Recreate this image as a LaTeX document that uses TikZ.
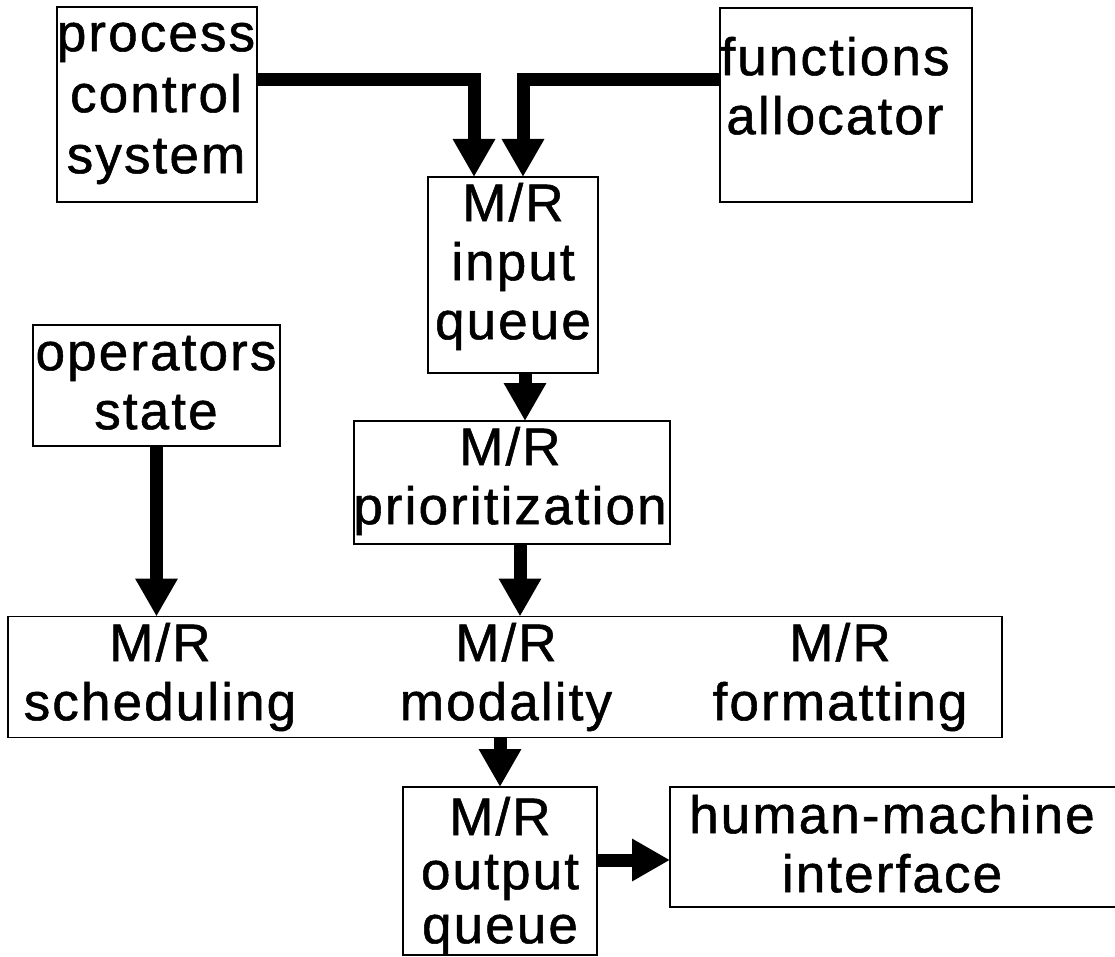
\documentclass[tikz,border=0pt]{standalone}
\usepackage{fontspec}
\setmainfont{Liberation Sans}[LetterSpace=4, FakeBold=1]
\usetikzlibrary{arrows.meta}
\newcommand\mrfont{\fontsize{53}{59}\selectfont}
% strut that fixes the height of a label's first line
\newcommand\firstline{\rule{0pt}{41pt}}
\begin{document}
\begin{tikzpicture}[x=1pt,y=-1pt,
  box/.style={draw, line width=1.6pt, inner sep=0pt, outer sep=0pt},
  txt/.style={font=\mrfont, align=center, inner sep=0pt, anchor=north},
  flow/.style={line width=13pt, line join=miter,
               -{Triangle[length=38pt,width=40pt]}}]
\useasboundingbox (0,0) rectangle (1115,957);

% boxes
\node[box, minimum width=200pt, minimum height=195pt] (pcs) at (157,104.5) {};
\node[box, minimum width=252pt, minimum height=194pt] (fa)  at (846,105) {};
\node[box, minimum width=170pt, minimum height=196pt] (iq)  at (513,275) {};
\node[box, minimum width=247pt, minimum height=121pt] (os)  at (156.5,385.5) {};
\node[box, minimum width=316pt, minimum height=123pt] (pr)  at (512,482.5) {};
\node[box, minimum width=994pt, minimum height=121pt] (big) at (505,677) {};
\node[box, minimum width=194pt, minimum height=168pt] (oq)  at (500,871) {};
\node[box, minimum width=455pt, minimum height=120pt] (hmi) at (897.5,847) {};

% labels
\node[txt, font=\fontsize{53}{61}\selectfont] (pcs-t) at (156,10) {\firstline process\\control\\system};
\node[txt] (fa-t)  at (835,34)  {\firstline functions\\allocator};
\node[txt] (iq-t)  at (513,180) {\firstline M/R\\input\\queue};
\node[txt] (os-t)  at (156,329) {\firstline operators\\state};
\node[txt] (pr-t)  at (510,424) {\firstline M/R\\prioritization};
\node[txt] (big-s) at (160,620) {\firstline M/R\\scheduling};
\node[txt] (big-m) at (506,620) {\firstline M/R\\modality};
\node[txt] (big-f) at (840,620) {\firstline M/R\\formatting};
\node[txt, font=\fontsize{53}{54}\selectfont] (oq-t) at (500,794) {\firstline M/R\\output\\queue};
\node[txt] (hmi-t) at (892,792) {\firstline human-machine\\interface};

% connectors
\draw[flow] (pcs.east |- 0,80) -| ([xshift=-39pt]iq.north);
\draw[flow] (fa.west |- 0,80) -| ([xshift=10pt]iq.north);
\draw[flow] ([xshift=12pt]iq.south) -- ([xshift=12pt]iq.south |- pr.north);
\draw[flow] (os.south) -- (os.south |- big.north);
\draw[flow] ([xshift=8pt]pr.south) -- ([xshift=8pt]pr.south |- big.north);
\draw[flow] (oq.north |- big.south) -- (oq.north);
\draw[flow] ([yshift=11pt]oq.east) -- ([yshift=11pt]oq.east -| hmi.west);
\end{tikzpicture}
\end{document}
